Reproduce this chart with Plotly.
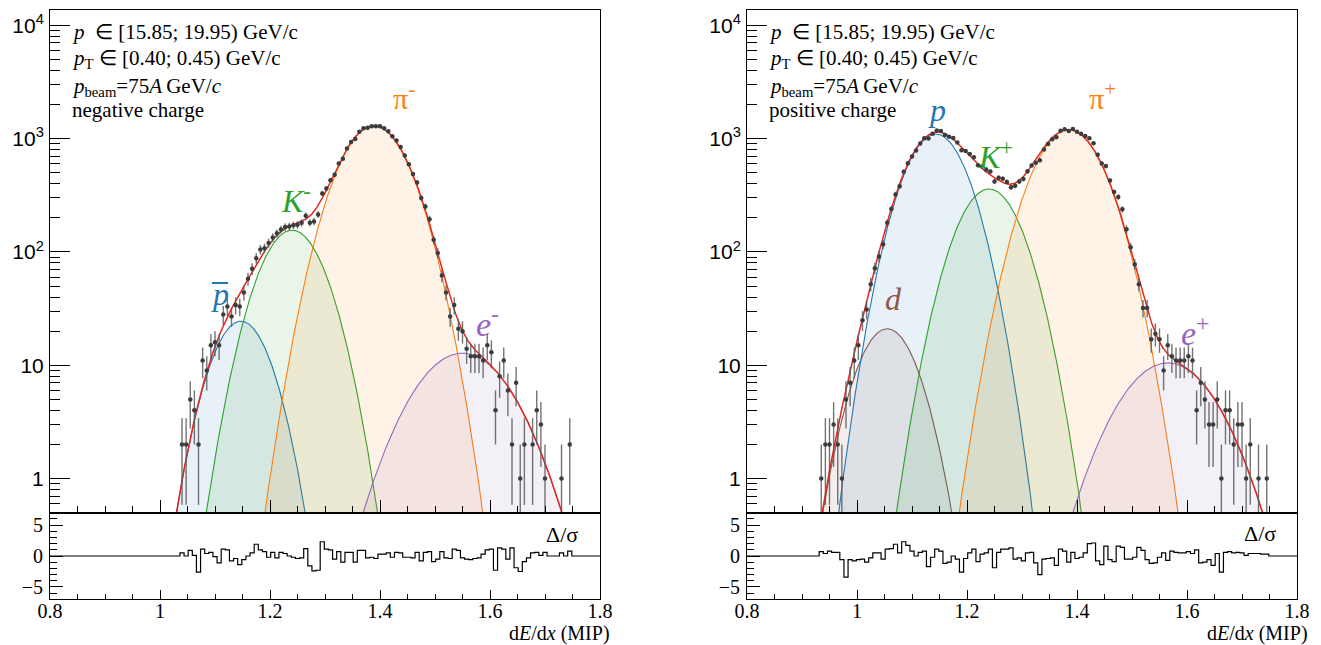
import numpy as np
import plotly.graph_objects as go

# ---------------- data ----------------
# histogram binning (bin centres start, width, number of bins)
BIN_FIRST_CENTER = 0.935
BIN_WIDTH = 0.0075
N_BINS = 109

# negative charge: counts per bin (first 14 bins empty)
neg_counts = [0] * 14 + [
    2, 2, 5, 4, 2, 11, 9, 15, 16, 15,
    28, 33, 27, 34, 33, 44, 58, 71, 88, 105,
    108, 120, 134, 146, 158, 166, 168, 172, 174, 181,
    209, 181, 186, 214, 329, 363, 430, 481, 603, 666,
    820, 934, 993, 1153, 1234, 1251, 1288, 1286, 1287, 1236,
    1166, 1050, 965, 846, 709, 595, 487, 410, 299, 252,
    195, 128, 98, 62, 44, 27, 34, 21, 20, 14,
    12, 12, 12, 11, 15, 13, 4, 8, 11, 6,
    2, 7, 1, 2, 0, 2, 4, 3, 1, 0,
    0, 0, 1, 0, 2]
neg_resid = [0.0] * 14 + [
    0.5, 0.0, 0.9, 0.1, -2.6, 1.1, 0.4, 0.6, -0.1, -1.1,
    1.1, 1.0, -0.8, -0.4, -1.4, -0.6, 0.0, 0.5, 1.9, 1.0,
    0.7, -0.2, 0.6, -0.3, 0.6, 0.4, 0.0, -0.2, -0.4, -0.3,
    1.2, -1.6, -2.4, -2.3, 2.3, 1.1, 1.0, -0.5, 0.7, -1.0,
    0.6, 0.6, -1.0, 0.9, 0.9, -0.3, -0.2, -0.4, 0.3, 0.3,
    0.5, -0.2, 0.6, 0.5, -0.2, -0.2, -0.3, 0.6, -0.8, 0.6,
    0.7, -0.9, -0.5, 0.7, -0.3, -0.4, 1.1, 0.9, -0.3, -0.5,
    -0.6, -0.4, -0.3, 0.3, 1.0, 1.1, -2.3, 1.3, 1.1, -0.5,
    1.3, -1.9, -2.5, -0.9, -0.3, 0.5, 0.6, 0.1, 0.6, 0.0,
    0.0, 0.0, 0.5, 0.0, 0.8]

# positive charge
pos_counts = [
    1, 2, 2, 3, 2, 1, 5, 7, 11, 15,
    25, 31, 52, 72, 91, 117, 181, 240, 322, 380,
    512, 607, 697, 786, 909, 1009, 1006, 1108, 1180, 1171,
    1079, 1042, 1012, 926, 789, 779, 734, 686, 583, 567,
    532, 513, 420, 452, 442, 415, 372, 385, 420, 441,
    515, 581, 612, 645, 804, 898, 990, 1029, 1176, 1209,
    1167, 1217, 1153, 1105, 1055, 1011, 911, 723, 603, 573,
    427, 338, 306, 238, 159, 110, 78, 52, 32, 32,
    17, 19, 17, 9, 15, 12, 11, 11, 11, 12,
    11, 4, 7, 5, 3, 3, 5, 1, 4, 4,
    2, 3, 3, 1, 2, 0, 1, 0, 1]
pos_resid = [
    0.7, 0.4, 0.8, 0.6, 0.6, -0.6, -3.4, -0.6, -0.8, -0.6,
    -0.5, -1.0, -0.3, 0.5, 0.5, -0.5, 1.1, 1.2, 1.9, 0.5,
    2.3, 1.7, 0.8, 0.0, 0.6, 0.8, -1.7, -0.2, 1.1, 0.8,
    -1.2, -1.0, 0.0, -0.5, -2.6, -0.4, 0.5, 1.1, -0.9, 0.3,
    0.5, 1.1, -1.9, 0.6, 1.1, 1.1, 1.3, -0.5, -0.3, -0.8,
    0.5, 0.6, -1.1, -3.0, -0.5, -0.4, -0.3, -1.5, 1.1, 0.8,
    -1.0, 0.6, -0.4, -0.2, 0.5, 2.0, 2.1, -0.8, -1.4, 1.6,
    -0.6, -0.9, 1.6, 1.4, -0.5, -0.5, -0.2, 1.4, 0.9, -0.6,
    -1.2, -1.1, -0.2, 0.5, -0.7, 0.8, 0.6, 0.5, 0.5, 0.7,
    0.4, 1.0, -1.1, -1.0, -0.6, -1.5, 0.4, -2.6, 0.6, 0.7,
    0.5, 0.6, 0.5, 0.1, 0.4, 0.4, 0.4, 0.3, 0.3]

# fitted Gaussian components: amplitude, mean, sigma
neg_names = ["pbar", "K-", "pi-", "e-"]
neg_amp = [24.5, 156.0, 1300.0, 12.8]
neg_mean = [1.147, 1.240, 1.389, 1.550]
neg_sigma = [0.042, 0.046, 0.050, 0.071]

pos_names = ["d", "p", "K+", "pi+", "e+"]
pos_amp = [21.0, 1100.0, 360.0, 1200.0, 10.5]
pos_mean = [1.055, 1.143, 1.240, 1.385, 1.565]
pos_sigma = [0.043, 0.045, 0.0464, 0.0505, 0.070]

COLORS = {"pbar": "#1f77b4", "p": "#1f77b4", "K-": "#2ca02c", "K+": "#2ca02c",
          "pi-": "#ff7f0e", "pi+": "#ff7f0e", "e-": "#9467bd", "e+": "#9467bd",
          "d": "#8c564b"}
FIT_COLOR = "#e3291f"

x_ticks = [0.8, 1.0, 1.2, 1.4, 1.6, 1.8]
x_ticktext = ["0.8", "1", "1.2", "1.4", "1.6", "1.8"]
y_ticks = [1, 10, 100, 1000, 10000]
y_ticktext = ["1", "10", "10<sup>2</sup>", "10<sup>3</sup>", "10<sup>4</sup>"]
r_ticks = [-5, 0, 5]
r_ticktext = ["\u22125", "0", "5"]

# ---------------- layout constants ----------------
W, H = 1321, 645
SERIF = "Liberation Serif"
SANS = "Liberation Sans"
MAIN_TOP, MAIN_BOT, RES_BOT = 10, 513, 599
PANEL_X = [(50, 600), (747, 1297)]
Y_LOG_RANGE = [-0.304, 4.136]
R_RANGE = [-6.94, 6.94]


def fx(p):
    return p / W


def fy(p):
    return 1 - p / H


def rgba(hexc, a):
    h = hexc.lstrip("#")
    r, g, b = int(h[0:2], 16), int(h[2:4], 16), int(h[4:6], 16)
    return f"rgba({r},{g},{b},{a})"


centers = BIN_FIRST_CENTER + BIN_WIDTH * np.arange(N_BINS)
xs = np.linspace(0.8, 1.8, 1201)
FLOOR = 1e-3


def gauss(x, a, m, s):
    return a * np.exp(-0.5 * ((x - m) / s) ** 2)


fig = go.Figure()

panels = [
    dict(names=neg_names, amp=neg_amp, mean=neg_mean, sigma=neg_sigma,
         counts=neg_counts, resid=neg_resid, xa="x", ya="y", rxa="x2", rya="y2"),
    dict(names=pos_names, amp=pos_amp, mean=pos_mean, sigma=pos_sigma,
         counts=pos_counts, resid=pos_resid, xa="x3", ya="y3", rxa="x4", rya="y4"),
]

for P in panels:
    total = np.zeros_like(xs)
    for n, a, m, s in zip(P["names"], P["amp"], P["mean"], P["sigma"]):
        g = gauss(xs, a, m, s)
        total += g
        yy = np.maximum(g, FLOOR)
        fig.add_trace(go.Scatter(
            x=np.concatenate([xs, [1.8, 0.8]]),
            y=np.concatenate([yy, [FLOOR, FLOOR]]),
            mode="lines", fill="toself", fillcolor=rgba(COLORS[n], 0.10),
            line=dict(color=COLORS[n], width=1.1),
            xaxis=P["xa"], yaxis=P["ya"], showlegend=False, hoverinfo="skip"))
    fig.add_trace(go.Scatter(
        x=xs, y=np.maximum(total, FLOOR), mode="lines",
        line=dict(color=FIT_COLOR, width=1.5),
        xaxis=P["xa"], yaxis=P["ya"], showlegend=False, hoverinfo="skip"))
    # data points
    c = np.array(P["counts"], dtype=float)
    sel = c > 0
    cx = centers[sel]
    cy = c[sel]
    err = np.sqrt(cy)
    err_minus = np.minimum(err, cy * 0.999)
    fig.add_trace(go.Scatter(
        x=cx, y=cy, mode="markers",
        marker=dict(color="#3c3c3c", size=4.5, symbol="circle"),
        error_y=dict(type="data", array=err, arrayminus=err_minus, symmetric=False,
                     color="rgba(90,90,90,0.85)", thickness=1.4, width=0),
        error_x=dict(type="constant", value=0.003, color="#3c3c3c", thickness=1.2, width=0),
        xaxis=P["xa"], yaxis=P["ya"], showlegend=False, hoverinfo="skip"))
    # residual step histogram
    left_edges = centers - BIN_WIDTH / 2
    rx = np.concatenate([[0.8], left_edges, [left_edges[-1] + BIN_WIDTH, 1.8]])
    ry = np.concatenate([[0.0], np.array(P["resid"]), [0.0, 0.0]])
    fig.add_trace(go.Scatter(
        x=rx, y=ry, mode="lines", line=dict(color="black", width=1.2, shape="hv"),
        xaxis=P["rxa"], yaxis=P["rya"], showlegend=False, hoverinfo="skip"))

common_axis = dict(showline=True, linecolor="black", linewidth=1, mirror=True,
                   showgrid=False, zeroline=False, ticks="inside", tickcolor="black",
                   tickwidth=1, automargin=False)

layout = dict(width=W, height=H, margin=dict(l=0, r=0, t=0, b=0, autoexpand=False),
              paper_bgcolor="white", plot_bgcolor="white", showlegend=False)

for idx, (x0, x1) in enumerate(PANEL_X):
    s = "" if idx == 0 else "3"
    sr = "2" if idx == 0 else "4"
    dom_x = [fx(x0), fx(x1)]
    layout["xaxis" + s] = dict(common_axis, domain=dom_x, range=[0.8, 1.8],
                               anchor="y" + s, tickvals=x_ticks, showticklabels=False,
                               ticklen=13,
                               minor=dict(dtick=0.05, tick0=0.8, ticks="inside", ticklen=7,
                                          tickcolor="black", showgrid=False))
    layout["yaxis" + s] = dict(common_axis, domain=[fy(MAIN_BOT), fy(MAIN_TOP)], type="log",
                               range=Y_LOG_RANGE, anchor="x" + s,
                               tickvals=y_ticks, ticktext=y_ticktext, ticklen=20,
                               ticklabelstandoff=1,
                               tickfont=dict(family=SANS, size=21, color="black"),
                               minor=dict(tickmode="array",
                                          tickvals=[m * 10 ** e for e in range(-1, 5) for m in range(2, 10)],
                                          ticks="inside", ticklen=10, tickcolor="black",
                                          showgrid=False))
    layout["xaxis" + sr] = dict(common_axis, domain=dom_x, range=[0.8, 1.8], anchor="y" + sr,
                                tickvals=x_ticks, ticktext=x_ticktext, ticklen=9,
                                ticklabelstandoff=-6,
                                tickfont=dict(family=SERIF, size=20, color="black"),
                                minor=dict(dtick=0.05, tick0=0.8, ticks="inside", ticklen=5,
                                           tickcolor="black", showgrid=False))
    layout["yaxis" + sr] = dict(common_axis, domain=[fy(RES_BOT), fy(MAIN_BOT)], range=R_RANGE,
                                anchor="x" + sr, tickvals=r_ticks, ticktext=r_ticktext,
                                ticklen=13, ticklabelstandoff=2,
                                tickfont=dict(family=SERIF, size=20, color="black"),
                                minor=dict(dtick=1, tick0=0, ticks="inside", ticklen=7,
                                           tickcolor="black", showgrid=False))

fig.update_layout(**layout)

annotations = []


def ann(text, px, py, size, color="black", family=SERIF, xanchor="center"):
    annotations.append(dict(text=text, x=fx(px), y=fy(py), xref="paper", yref="paper",
                            xanchor=xanchor, yanchor="middle", showarrow=False,
                            font=dict(family=family, size=size, color=color)))


info_lines = [
    "<i>p</i>\u00a0\u00a0\u2208 [15.85; 19.95) GeV/c",
    "<i>p</i><sub>T</sub> \u2208 [0.40; 0.45) GeV/c",
    "<i>p</i><sub>beam</sub>=75<i>A</i>\u2009GeV/<i>c</i>",
]
for ox, label in [(70, "negative charge"), (767, "positive charge")]:
    for txt, yy in zip(info_lines + [label], [32, 59, 87, 110]):
        ann(txt, ox, yy, 21, xanchor="left")

# species labels
ann("\u03c0<sup>-</sup>", 404, 96, 30, COLORS["pi-"])
ann("<i>K</i><sup>-</sup>", 296, 199, 32, COLORS["K-"])
ann("<i>p</i>", 220, 294, 32, COLORS["pbar"])
ann("<i>e</i><sup>-</sup>", 487, 322, 34, COLORS["e-"])
ann("<i>p</i>", 937, 110, 32, COLORS["p"])
ann("<i>K</i><sup>+</sup>", 996, 155, 32, COLORS["K+"])
ann("\u03c0<sup>+</sup>", 1102, 96, 30, COLORS["pi+"])
ann("<i>d</i>", 894, 299, 32, COLORS["d"])
ann("<i>e</i><sup>+</sup>", 1195, 331, 34, COLORS["e+"])

# residual labels and axis titles
ann("\u0394/\u03c3", 562, 534, 22)
ann("\u0394/\u03c3", 1260, 533, 22)
ann("d<i>E</i>/d<i>x</i> (MIP)", 612, 633, 20, xanchor="right")
ann("d<i>E</i>/d<i>x</i> (MIP)", 1310, 633, 20, xanchor="right")

fig.update_layout(annotations=annotations)

# overline of anti-proton symbol
fig.add_shape(type="line", xref="paper", yref="paper",
              x0=fx(212), x1=fx(228), y0=fy(283), y1=fy(283),
              line=dict(color=COLORS["pbar"], width=2))

fig.write_html("out.html", config={"displayModeBar": False},
               post_script="document.body.style.margin='0';")
